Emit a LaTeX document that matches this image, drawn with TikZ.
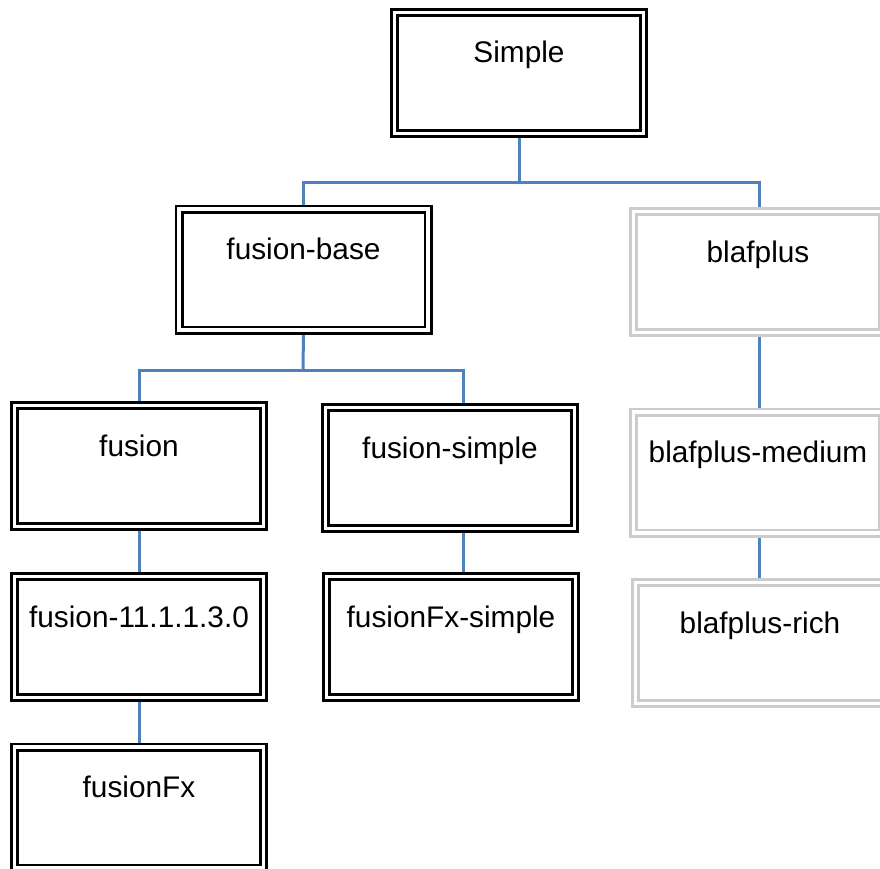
\documentclass[tikz,border=0pt]{standalone}
\usepackage{fontspec}
\setmainfont{Liberation Sans}
\definecolor{connblue}{HTML}{4F81BD}
\pgfdeclarelayer{bg}
\pgfsetlayers{bg,main}
\begin{document}
\begin{tikzpicture}[x=1pt,y=-1pt,
  box/.style={rectangle, draw=black, line width=2.7pt, double=white, double distance=3.6pt,
    fill=white, minimum width=249pt, inner xsep=0pt, inner ysep=0pt,
    text height=50.5pt, text depth=70.5pt, text=black,
    font=\fontsize{29.8}{36}\selectfont},
  greybox/.style={box, draw=gray!40},
  link/.style={draw=connblue, line width=3pt}]
\useasboundingbox (0,0) rectangle (880,869);
\clip (0,0) rectangle (880,869);

\node[box] (simple) at (519,73) {Simple};
\node[box] (fbase) at (303.5,269.5) {fusion-base};
\node[greybox] (blaf) at (758,272) {blafplus};
\node[box] (fusion) at (139,466) {fusion};
\node[box] (fsimple) at (450,468) {fusion-simple};
\node[greybox] (blafmed) at (758,472.5) {blafplus-medium};
\node[box] (f11) at (139,637) {fusion-11.1.1.3.0};
\node[box] (fxsimple) at (451,637) {fusionFx-simple};
\node[greybox] (blafrich) at (760,643) {blafplus-rich};
\node[box] (fusionfx) at (139,807.5) {fusionFx};

\begin{pgfonlayer}{bg}
  \coordinate (j1) at (519,183);
  \coordinate (j2) at (303,370);
  \draw[link] (simple.south) -- (j1);
  \draw[link] (j1) -| (fbase.north);
  \draw[link] (j1) -| ([xshift=1pt]blaf.north);
  \draw[link] (fbase.south) -- (j2);
  \draw[link] (j2) -| (fusion.north);
  \draw[link] (j2) -| ([xshift=13pt]fsimple.north);
  \draw[link] ([xshift=13pt]fsimple.south) -- ([xshift=12pt]fxsimple.north);
  \draw[link] (fusion.south) -- (f11.north);
  \draw[link] (f11.south) -- (fusionfx.north);
  \draw[link] ([xshift=1pt]blaf.south) -- ([xshift=1pt]blafmed.north);
  \draw[link] ([xshift=1pt]blafmed.south) -- ([xshift=-1pt]blafrich.north);
\end{pgfonlayer}
\end{tikzpicture}
\end{document}
